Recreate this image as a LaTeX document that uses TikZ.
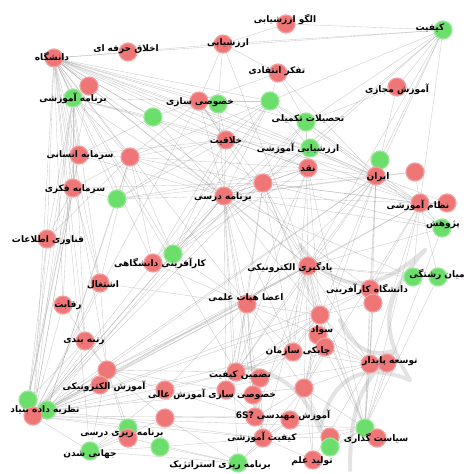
\documentclass[tikz,border=0pt]{standalone}
\usepackage{fontspec}
\newfontfamily\fa[Script=Arabic]{DejaVu Sans}
\TeXXeTstate=1
\pgfdeclarelayer{bg}
\pgfsetlayers{bg,main}
\definecolor{nred}{RGB}{238,118,118}
\definecolor{ngreen}{RGB}{108,222,108}
\definecolor{edgec}{RGB}{150,150,150}
\begin{document}
\begin{tikzpicture}[x=1pt,y=-1pt,
  rn/.style={circle,fill=nred,draw=nred!70!white,line width=1.2pt,minimum size=18pt,inner sep=0pt},
  gn/.style={circle,fill=ngreen,draw=ngreen!70!white,line width=1.2pt,minimum size=18pt,inner sep=0pt},
  edge/.style={draw=edgec,line width=0.35pt,opacity=0.5},
  web/.style={draw=gray!22,line width=4pt,line cap=round},
  lab/.style={font=\fa\bfseries\fontsize{9}{10}\selectfont,inner sep=0pt,text=black}]
\useasboundingbox (0,0) rectangle (472,474);
% nodes
\node[rn] (a1) at (54,58) {};
\node[rn] (a2) at (128,52) {};
\node[rn] (a3) at (223,44) {};
\node[rn] (a4) at (286,24) {};
\node[rn] (a5) at (278,73) {};
\node[gn] (a6) at (443,30) {};
\node[rn] (a7) at (397,87) {};
\node[rn] (a8) at (89,86) {};
\node[gn] (a9) at (73,98) {};
\node[gn] (a10) at (153,117) {};
\node[rn] (a11) at (199,101) {};
\node[gn] (a12) at (218,104) {};
\node[gn] (a13) at (270,101) {};
\node[gn] (a14) at (306,122) {};
\node[gn] (a15) at (310,148) {};
\node[rn] (a16) at (308,168) {};
\node[gn] (a17) at (380,160) {};
\node[rn] (a18) at (376,176) {};
\node[rn] (a19) at (415,172) {};
\node[rn] (a20) at (79,155) {};
\node[rn] (a21) at (130,157) {};
\node[rn] (a22) at (73,188) {};
\node[gn] (a23) at (117,199) {};
\node[rn] (a24) at (263,183) {};
\node[rn] (a25) at (224,196) {};
\node[rn] (a26) at (420,203) {};
\node[rn] (a27) at (447,203) {};
\node[gn] (a28) at (442,228) {};
\node[rn] (a29) at (47,239) {};
\node[gn] (a30) at (173,254) {};
\node[rn] (a31) at (153,263) {};
\node[rn] (a32) at (308,266) {};
\node[rn] (a33) at (100,283) {};
\node[rn] (a34) at (247,304) {};
\node[gn] (a35) at (413,277) {};
\node[gn] (a36) at (438,277) {};
\node[rn] (a37) at (370,289) {};
\node[rn] (a38) at (373,303) {};
\node[rn] (a39) at (63,305) {};
\node[rn] (a40) at (320,315) {};
\node[rn] (a41) at (318,335) {};
\node[rn] (a42) at (293,352) {};
\node[rn] (a43) at (85,341) {};
\node[rn] (a44) at (370,364) {};
\node[rn] (a45) at (387,363) {};
\node[rn] (a46) at (107,370) {};
\node[rn] (a47) at (100,385) {};
\node[rn] (a48) at (236,372) {};
\node[rn] (a49) at (165,390) {};
\node[rn] (a50) at (226,390) {};
\node[rn] (a51) at (253,395) {};
\node[rn] (a52) at (260,378) {};
\node[rn] (a53) at (304,388) {};
\node[rn] (a54) at (165,418) {};
\node[gn] (a55) at (28,400) {};
\node[gn] (a56) at (47,410) {};
\node[rn] (a57) at (33,416) {};
\node[rn] (a58) at (255,417) {};
\node[rn] (a59) at (290,420) {};
\node[rn] (a60) at (263,438) {};
\node[gn] (a61) at (128,428) {};
\node[rn] (a62) at (128,438) {};
\node[gn] (a63) at (90,451) {};
\node[gn] (a64) at (160,447) {};
\node[gn] (a65) at (238,463) {};
\node[rn] (a66) at (313,460) {};
\node[gn] (a67) at (365,428) {};
\node[rn] (a68) at (377,438) {};
\node[rn] (a69) at (330,437) {};
\node[gn] (a70) at (330,447) {};
\node[rn] (a71) at (226,140) {};
\node[rn] (a72) at (325,347) {};
% edges
\begin{pgfonlayer}{bg}
\fill[white] (0,0) rectangle (472,474);
\draw[web] (300,245) .. controls (340,300) and (380,290) .. (425,250);
\draw[web] (425,250) .. controls (380,300) and (380,330) .. (410,380);
\draw[web] (410,380) .. controls (360,360) and (330,380) .. (320,430);
\draw[web] (320,430) .. controls (300,380) and (270,370) .. (230,365);
\draw[web] (340,320) .. controls (350,345) and (370,360) .. (395,350);
\draw[web] (395,350) .. controls (365,380) and (350,400) .. (350,470);
\foreach \h/\ts in {
 a1/{a2,a9,a8,a10,a11,a12,a13,a14,a15,a16,a18,a20,a21,a22,a23,a24,a25,a26,a29,a30,a31,a32,a33,a34,a37,a39,a43,a46,a48,a57,a63,a6,a71},
 a6/{a3,a7,a14,a15,a17,a18,a26,a24,a32,a13,a4},
 a9/{a8,a20,a22,a29,a33,a39,a43,a57,a11,a25,a18,a21,a10,a71},
 a57/{a20,a22,a29,a33,a39,a43,a46,a47,a25,a32,a34,a18,a26,a11,a14,a24,a61,a63,a48,a58,a60,a67,a37,a44,a30,a31},
 a56/{a25,a32,a34,a18,a21,a23,a40,a42,a53,a60},
 a55/{a9,a20,a22,a29,a8,a43},
 a25/{a11,a12,a13,a14,a15,a16,a18,a21,a24,a30,a32,a34,a40,a42,a48,a50,a58,a60,a65,a19,a26,a28,a35,a71,a10,a23,a31},
 a32/{a18,a26,a28,a35,a36,a37,a40,a41,a42,a44,a46,a48,a53,a58,a60,a66,a67,a11,a14,a24,a3,a72,a38},
 a18/{a17,a19,a26,a27,a28,a14,a15,a16,a24,a34,a37,a40,a44,a48,a53,a67,a11,a5,a13},
 a26/{a27,a28,a19,a36,a35,a15,a14,a37,a44,a53,a67,a24,a16},
 a34/{a30,a31,a33,a40,a42,a48,a49,a50,a51,a53,a58,a60,a46,a41},
 a67/{a44,a45,a37,a38,a40,a41,a24,a16,a28,a36,a53,a60,a66,a68,a69,a70},
 a44/{a38,a40,a41,a42,a45,a53,a66,a72},
 a46/{a33,a39,a43,a49,a54,a62,a61,a63,a48,a50,a47},
 a60/{a58,a59,a66,a65,a64,a52,a53,a51,a69},
 a11/{a12,a10,a13,a21,a5,a3,a24,a71},
 a3/{a4,a5,a12,a2},
 a5/{a13,a14},
 a7/{a14,a17},
 a63/{a61,a62,a64,a65,a49,a54},
 a65/{a54,a62,a59,a64},
 a22/{a21,a23,a24,a29,a33},
 a20/{a21,a10,a25,a71},
 a48/{a49,a50,a52,a40,a42,a72},
 a24/{a14,a15,a16,a30,a31,a34,a40,a42,a48,a21,a23,a26,a28},
 a16/{a14,a15,a30,a34,a40,a42,a48,a21,a23,a71},
 a13/{a14,a15,a71,a21,a23,a30,a31},
 a71/{a12,a15,a16,a30,a31,a23,a21},
 a21/{a23,a30,a31,a33,a29},
 a40/{a41,a42,a53,a72,a37,a38,a50,a51},
 a58/{a50,a51,a52,a53,a49,a54},
 a53/{a59,a66,a69,a70,a41,a72}}
 {\foreach \t in \ts {\draw[edge] (\h) -- (\t);}}
\end{pgfonlayer}
% labels
\node[lab] (l1) at (52,57) {\beginR دانشگاه\endR};
\node[lab] (l2) at (126,49) {\beginR اخلاق حرفه ای\endR};
\node[lab] (l3) at (228,43) {\beginR ارزشیابی\endR};
\node[lab] (l4) at (285,20) {\beginR الگو ارزشیابی\endR};
\node[lab] (l5) at (277,71) {\beginR تفکر انتقادی\endR};
\node[lab] (l6) at (430,28) {\beginR کیفیت\endR};
\node[lab] (l7) at (397,89) {\beginR آموزش مجازی\endR};
\node[lab] (l8) at (73,98) {\beginR برنامه آموزشی\endR};
\node[lab] (l9) at (200,102) {\beginR خصوصی سازی\endR};
\node[lab] (l10) at (308,119) {\beginR تحصیلات تکمیلی\endR};
\node[lab] (l11) at (298,148) {\beginR ارزشیابی آموزشی\endR};
\node[lab] (l12) at (308,169) {\beginR نقد\endR};
\node[lab] (l13) at (226,141) {\beginR خلاقیت\endR};
\node[lab] (l14) at (378,177) {\beginR ایران\endR};
\node[lab] (l15) at (80,155) {\beginR سرمایه انسانی\endR};
\node[lab] (l16) at (75,189) {\beginR سرمایه فکری\endR};
\node[lab] (l17) at (223,197) {\beginR برنامه درسی\endR};
\node[lab] (l18) at (418,205) {\beginR نظام آموزشی\endR};
\node[lab] (l19) at (443,225) {\beginR پژوهش\endR};
\node[lab] (l20) at (48,240) {\beginR فناوری اطلاعات\endR};
\node[lab] (l21) at (160,263) {\beginR کارآفرینی دانشگاهی\endR};
\node[lab] (l22) at (290,268) {\beginR یادگیری الکترونیکی\endR};
\node[lab] (l23) at (103,285) {\beginR اشتغال\endR};
\node[lab] (l24) at (246,298) {\beginR اعضا هیات علمی\endR};
\node[lab] (l25) at (437,275) {\beginR میان رشتگی\endR};
\node[lab] (l26) at (367,289) {\beginR دانشگاه کارآفرینی\endR};
\node[lab] (l27) at (68,305) {\beginR رقابت\endR};
\node[lab] (l28) at (322,330) {\beginR سواد\endR};
\node[lab] (l29) at (298,351) {\beginR چابکی سازمان\endR};
\node[lab] (l30) at (84,341) {\beginR رتبه بندی\endR};
\node[lab] (l31) at (390,361) {\beginR توسعه پایدار\endR};
\node[lab] (l32) at (104,386) {\beginR آموزش الکترونیکی\endR};
\node[lab] (l33) at (240,375) {\beginR تضمین کیفیت\endR};
\node[lab] (l34) at (212,394) {\beginR خصوصی سازی آموزش عالی\endR};
\node[lab] (l35) at (45,410) {\beginR نظریه داده بنیاد\endR};
\node[lab] (l36) at (283,415) {\beginR آموزش مهندسی \beginL 6S?\endL\endR};
\node[lab] (l37) at (262,437) {\beginR کیفیت آموزشی\endR};
\node[lab] (l38) at (122,433) {\beginR برنامه ریزی درسی\endR};
\node[lab] (l39) at (90,454) {\beginR جهانی شدن\endR};
\node[lab] (l40) at (220,465) {\beginR برنامه ریزی استراتژیک\endR};
\node[lab] (l41) at (312,461) {\beginR تولید علم\endR};
\node[lab] (l42) at (376,438) {\beginR سیاست گذاری\endR};
\end{tikzpicture}
\end{document}
